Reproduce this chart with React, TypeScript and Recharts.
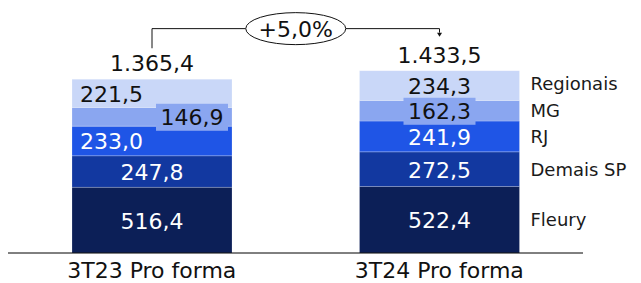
import { BarChart, Bar, XAxis, YAxis, LabelList } from "recharts";

// values (R$ milhões)
const categories = ["3T23 Pro forma", "3T24 Pro forma"];
const fleury = [516.4, 522.4];
const demaisSP = [247.8, 272.5];
const rj = [233.0, 241.9];
const mg = [146.9, 162.3];
const regionais = [221.5, 234.3];
const totals = [1365.4, 1433.5];
const growth = "+5,0%";

const data = categories.map((name, i) => ({
  name,
  fleury: fleury[i],
  demaisSP: demaisSP[i],
  rj: rj[i],
  mg: mg[i],
  regionais: regionais[i],
  total: totals[i],
}));

const FONT = "DejaVu Sans";

const SERIES = [
  { key: "fleury", name: "Fleury", color: "#0c1f57", text: "#ffffff" },
  { key: "demaisSP", name: "Demais SP", color: "#1238a0", text: "#ffffff" },
  { key: "rj", name: "RJ", color: "#1f55e6", text: "#ffffff" },
  { key: "mg", name: "MG", color: "#8aa6f0", text: "#111111" },
  { key: "regionais", name: "Regionais", color: "#c9d7f8", text: "#111111" },
];

const fmt = (v: number) => v.toFixed(1).replace(".", ",");
const fmtTotal = (v: number) => {
  const [int, dec] = v.toFixed(1).split(".");
  return int.replace(/\B(?=(\d{3})+(?!\d))/g, ".") + "," + dec;
};

function segmentLabel(s: (typeof SERIES)[number]) {
  return (props: any) => {
    const vb = props.viewBox ?? props;
    const x = Number(vb.x), y = Number(vb.y), w = Number(vb.width), h = Number(vb.height);
    const idx = props.index;
    const cx = x + w / 2;
    const cy = y + h / 2;
    let tx = cx;
    let anchor: "start" | "middle" = "middle";
    // left bar: a couple of labels sit at the left edge
    if (idx === 0 && (s.key === "regionais" || s.key === "rj")) {
      tx = x + 8;
      anchor = "start";
    }
    const out: any[] = [];
    if (s.key === "mg") {
      const bx = idx === 0 ? cx + 40 : cx;
      out.push(
        <rect key="b" x={bx - 36} y={cy - 13} width={72} height={27} fill={s.color} />,
        <text key="t" x={bx} y={cy + 1} textAnchor="middle" dominantBaseline="central"
          fontSize={22} fontFamily={FONT} fill={s.text}>{fmt(Number(props.value))}</text>
      );
    } else {
      out.push(
        <text key="t" x={tx} y={cy + 1} textAnchor={anchor} dominantBaseline="central"
          fontSize={22} fontFamily={FONT} fill={s.text}>{fmt(Number(props.value))}</text>
      );
    }
    if (idx === 1) {
      out.push(
        <text key="n" x={x + w + 11} y={s.key === "regionais" ? cy - 2 : cy} dominantBaseline="central"
          fontSize={18} fontFamily={FONT} fill="#1a1a1a">{s.name}</text>
      );
    }
    return <g>{out}</g>;
  };
}

const tops: Record<number, { cx: number; top: number }> = {};

function totalLabel(props: any) {
  const vb = props.viewBox ?? props;
  const x = Number(vb.x), y = Number(vb.y), w = Number(vb.width);
  const idx = props.index;
  const cx = x + w / 2;
  tops[idx] = { cx, top: y };
  const label = (
    <text x={cx} y={y - 8} textAnchor="middle" fontSize={22} fontFamily={FONT} fill="#111">
      {fmtTotal(totals[idx])}
    </text>
  );
  if (idx !== 1 || !tops[0]) return <g>{label}</g>;
  const a = tops[0];
  const lineY = Math.min(a.top, y) - 42;
  const mid = (a.cx + cx) / 2;
  const rx = 50;
  const tipY = y - 34;
  return (
    <g>
      {label}
      <polyline points={`${a.cx},${a.top - 31} ${a.cx},${lineY} ${mid - rx},${lineY}`} fill="none" stroke="#111" />
      <polyline points={`${mid + rx},${lineY} ${cx},${lineY} ${cx},${tipY - 4}`} fill="none" stroke="#111" />
      <polygon points={`${cx - 2.5},${tipY - 4} ${cx + 2.5},${tipY - 4} ${cx},${tipY}`} fill="#111" />
      <ellipse cx={mid} cy={lineY} rx={rx} ry={16} fill="#fff" stroke="#111" />
      <text x={mid} y={lineY + 1} textAnchor="middle" dominantBaseline="central" fontSize={22}
        fontFamily={FONT} fill="#111">{growth}</text>
    </g>
  );
}

export default function App() {
  return (
    <BarChart width={633} height={275} data={data} barSize={160}
      margin={{ top: 16, right: 58, left: 0, bottom: 0 }} style={{ fontFamily: FONT }}>
      <XAxis dataKey="name" height={30} tickLine={false} tickSize={6} tickMargin={3}
        axisLine={{ stroke: "#000" }} tick={{ fill: "#111", fontSize: 22, fontFamily: FONT }} interval={0} />
      <YAxis hide domain={[0, 1800]} />
      {SERIES.map((s) => (
        <Bar key={s.key} dataKey={s.key} stackId="a" fill={s.color} stroke="#ffffff" strokeOpacity={0.2}
          isAnimationActive={false}>
          <LabelList dataKey={s.key} content={segmentLabel(s)} />
          {s.key === "regionais" && <LabelList dataKey="total" content={totalLabel} />}
        </Bar>
      ))}
    </BarChart>
  );
}
